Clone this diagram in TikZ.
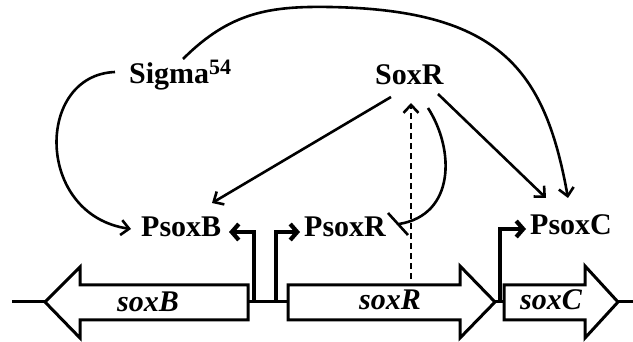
\documentclass[tikz,border=0pt]{standalone}
\usepackage{fontspec}
\setmainfont{Liberation Serif}
\usetikzlibrary{arrows.meta}
\begin{document}
\begin{tikzpicture}[x=1pt,y=-1pt,
  lbl/.style={font=\fontsize{30}{30}\selectfont\bfseries, inner sep=0pt, anchor=base west},
  gname/.style={font=\fontsize{30}{30}\selectfont\bfseries\itshape, inner sep=0pt, anchor=base west},
  gene/.style={draw, line width=3pt, fill=white, line join=miter},
  axis/.style={line width=3pt},
  link/.style={line width=2.6pt, -{Straight Barb[length=8pt,width=15pt]}},
  prom/.style={line width=4.2pt, -{Straight Barb[length=7pt,width=16pt]}},
  bar/.style={line width=2.6pt}]
\useasboundingbox[fill=white] (0,0) rectangle (633,342);

% genes
\draw[gene] (45,302) -- (80,267) -- (80,285) -- (248,285) -- (248,320) -- (80,320) -- (80,338) -- cycle;
\draw[gene] (288,285) -- (460,285) -- (460,266) -- (495,302) -- (460,338) -- (460,320) -- (288,320) -- cycle;
\draw[gene] (504,285) -- (585,285) -- (585,266) -- (618,302) -- (585,338) -- (585,320) -- (504,320) -- cycle;

\coordinate (a0) at (12,302);
\coordinate (a1) at (45,302);
\coordinate (a2) at (248,302);
\coordinate (a3) at (288,302);
\coordinate (a4) at (495,302);
\coordinate (a5) at (504,302);
\coordinate (a6) at (618,302);
\coordinate (a7) at (633,302);
\draw[axis] (a0) -- (a1) (a2) -- (a3) (a4) -- (a5) (a6) -- (a7);

% labels
\node[lbl] (sigma) at (129,84) {Sigma\raisebox{9pt}{\fontsize{22}{22}\selectfont 54}};
\node[lbl] (soxr) at (375,85) {SoxR};
\node[lbl] (psoxb) at (141,237) {PsoxB};
\node[lbl] (psoxr) at (304,237) {PsoxR};
\node[lbl] (psoxc) at (530,235) {PsoxC};
\node[gname] (gB) at (117,312) {soxB};
\node[gname] (gR) at (359,309) {soxR};
\node[gname] (gC) at (520,309) {soxC};

% promoters
\coordinate (pb0) at (254,302);
\coordinate (pb1) at (254,232);
\coordinate (pb2) at (229,232);
\coordinate (pr0) at (276,302);
\coordinate (pr1) at (276,232);
\coordinate (pr2) at (300,232);
\coordinate (pc0) at (500,302);
\coordinate (pc1) at (500,229);
\coordinate (pc2) at (526,229);
\draw[prom] (pb0) -- (pb1) -- (pb2);
\draw[prom] (pr0) -- (pr1) -- (pr2);
\draw[prom] (pc0) -- (pc1) -- (pc2);

% regulation links
\coordinate (s1) at (183,59);
\coordinate (s1m) at (330,7);
\coordinate (c1) at (568,198);
\draw[link] (s1) .. controls (230,12) and (270,6) .. (s1m) .. controls (500,10) and (545,70) .. (c1);

\coordinate (s2) at (115,72);
\coordinate (b1) at (131,229);
\draw[link] (s2) .. controls (35,75) and (35,215) .. (b1);

\coordinate (r1) at (391,97);
\coordinate (b2) at (212,203);
\draw[link] (r1) -- (b2);

\coordinate (r2) at (438,94);
\coordinate (c2) at (546,198);
\draw[link] (r2) -- (c2);

\coordinate (d0) at (411,279);
\coordinate (d1) at (411,103);
\draw[link, dash pattern=on 6pt off 4pt] (d0) -- (d1);

\coordinate (r3) at (428,108);
\coordinate (i1) at (399,224);
\coordinate (i2) at (388,213);
\coordinate (i3) at (408,235);
\draw[line width=2.6pt] (r3) .. controls (455,150) and (455,215) .. (i1);
\draw[bar] (i2) -- (i3);
\end{tikzpicture}
\end{document}
